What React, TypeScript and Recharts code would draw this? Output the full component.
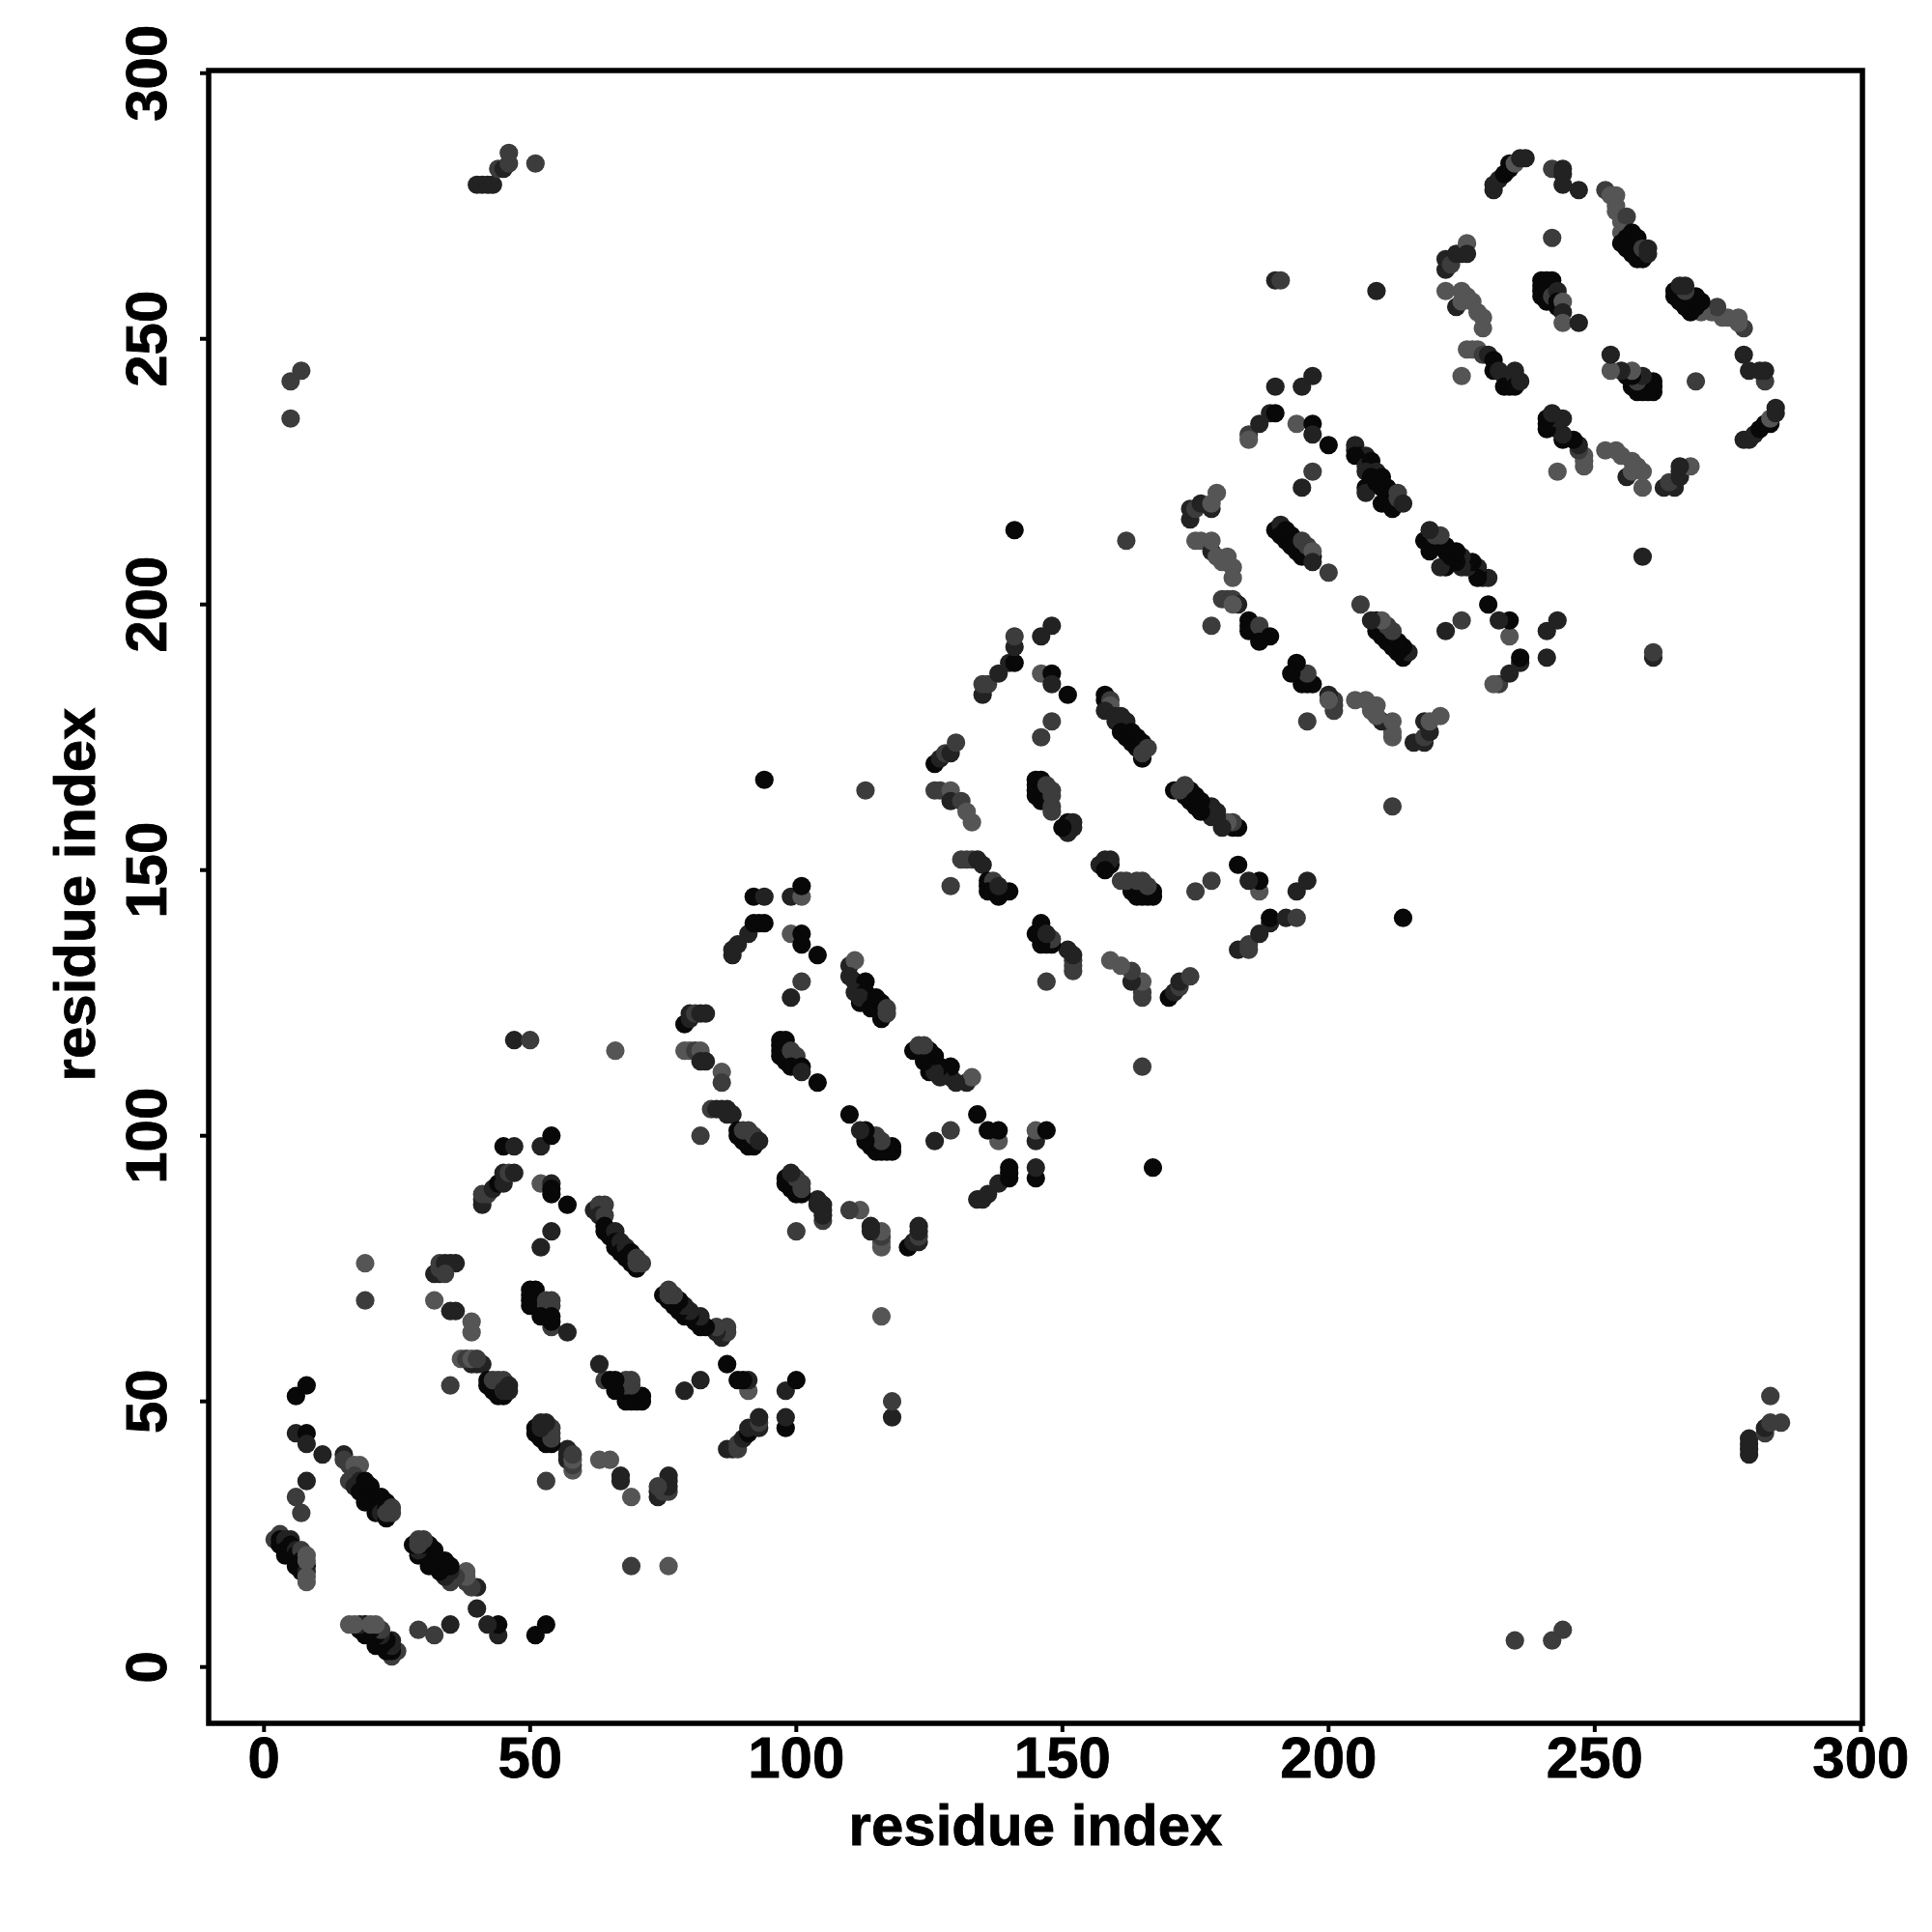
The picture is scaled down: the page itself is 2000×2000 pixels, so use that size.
import React from 'react';
import { ScatterChart, Scatter, XAxis, YAxis, ReferenceArea, Label } from 'recharts';

type C = number[];
// [residue i, residue j, contact score 0..3]
const upA: C[] = [[2,24,1],[3,25,1],[3,24,3],[3,23,3],[4,24,2],[4,22,3],[5,24,2],[5,23,3],[4,21,3],[5,21,3],[6,22,2],[6,21,3],[6,19,3],[7,22,1],[7,20,3],[7,18,3],[8,21,0],[8,19,3],[8,18,2],[8,17,0],[8,20,0],[8,16,0],[6,51,3],[8,53,3],[6,44,2],[8,44,3],[8,42,2],[11,40,2],[8,35,2],[6,32,1],[7,29,1],[5,235,1],[5,242,1],[7,244,1]];
const upC: C[] = [[15,40,2],[15,39,1],[16,38,1],[17,38,0],[18,38,0],[16,35,1],[17,36,1],[18,35,2],[17,34,2],[19,35,3],[19,33,3],[18,33,3],[20,34,3],[20,32,3],[20,31,3],[19,31,3],[21,32,3],[21,30,3],[21,29,3],[22,32,3],[22,30,3],[22,29,2],[23,31,3],[23,30,3],[23,28,3],[24,30,1],[24,29,1],[23,29,1],[19,76,0],[19,69,1]];
const upD: C[] = [[32,74,2],[33,74,2],[33,75,1],[33,76,1],[34,76,2],[35,76,2],[36,76,2],[34,74,1],[32,69,0],[35,67,2],[36,67,2],[39,65,0],[39,63,0],[39,57,2],[40,57,2],[41,57,2],[37,58,0],[38,58,1],[39,58,0],[40,58,1],[35,53,1],[42,54,3],[42,53,3],[43,52,3],[44,52,3],[45,51,3],[44,51,3],[43,54,1],[44,54,1],[45,54,1],[45,52,2],[46,53,2],[46,52,2]];
const upE: C[] = [[40,279,2],[41,279,2],[42,279,2],[43,279,2],[44,282,1],[45,282,2],[46,283,1],[46,285,1],[51,283,1]];
const upF: C[] = [[41,87,2],[41,88,2],[41,89,1],[42,89,1],[43,90,2],[44,91,3],[45,91,2],[45,93,2],[46,93,1],[47,93,2],[45,98,3],[47,98,2],[47,118,2],[50,118,1],[52,98,2],[54,100,3],[52,91,0],[54,91,2],[54,90,3],[54,89,3],[57,87,3],[54,82,2],[52,79,2]];
const upG: C[] = [[50,71,3],[51,71,3],[50,70,3],[51,70,3],[50,69,3],[50,68,3],[51,68,3],[52,67,3],[53,69,1],[54,69,1],[53,68,1],[54,68,1],[54,64,1],[52,66,3],[54,66,3],[54,65,3],[57,63,2]];
const upH: C[] = [[62,86,2],[63,87,1],[64,87,1],[63,85,2],[64,85,1],[64,83,3],[64,82,3],[65,81,3],[66,82,2],[66,80,3],[66,79,3],[67,80,2],[67,78,3],[68,79,2],[68,77,3],[69,78,3],[69,76,3],[70,75,3],[70,77,1],[70,76,1],[71,76,1],[66,116,0]];
const upI: C[] = [[79,121,3],[80,122,2],[80,123,2],[81,123,1],[82,123,2],[83,123,2],[79,116,0],[80,116,0],[81,116,1],[82,116,0],[83,114,2],[82,114,2],[86,112,0],[86,110,1],[82,100,1],[84,105,1],[85,105,2],[86,105,2],[87,105,2],[87,104,2],[88,104,2],[89,101,3],[89,100,3],[90,99,3],[91,98,3],[92,98,3],[90,101,1],[91,101,1],[92,100,1],[93,99,2]];
const upJ: C[] = [[88,134,2],[88,135,2],[89,136,2],[91,138,2],[92,140,3],[93,140,3],[94,140,3],[92,145,3],[94,145,2],[99,145,2],[101,145,0],[101,147,3],[99,138,0],[101,138,3],[101,136,3],[104,134,3],[101,129,1],[99,126,2],[94,167,3],[113,165,1]];
const upK: C[] = [[97,118,3],[98,118,3],[97,117,3],[97,116,3],[97,115,3],[98,114,3],[99,116,1],[100,115,1],[99,113,3],[101,113,3],[101,112,2],[104,110,3]];
const upL: C[] = [[110,132,2],[111,133,0],[110,130,2],[111,129,2],[113,129,3],[111,127,2],[112,125,3],[113,127,3],[112,126,2],[115,126,3],[114,124,3],[115,124,3],[116,125,3],[116,123,3],[116,122,3],[117,124,1],[117,123,1]];
const upM: C[] = [[126,170,3],[127,171,2],[128,172,1],[129,172,2],[130,174,1],[126,165,1],[127,165,1],[129,165,0],[129,163,2],[131,163,1],[132,161,0],[133,159,0],[129,147,1],[131,152,1],[132,152,1],[133,152,1],[134,152,2],[135,151,2],[136,148,3],[136,147,3],[137,148,1],[136,146,3],[138,145,3],[140,146,3],[138,147,2]];
const upN: C[] = [[135,183,2],[135,185,1],[136,185,1],[138,187,2],[140,189,2],[141,189,3],[141,192,2],[141,194,1],[146,194,2],[148,196,2],[146,187,0],[148,187,3],[148,185,2],[151,183,3],[148,178,1],[146,175,1],[141,214,3],[162,212,1]];
const upO: C[] = [[145,167,3],[146,167,3],[145,166,3],[145,165,3],[146,165,3],[145,164,3],[146,163,3],[147,163,3],[147,166,1],[148,165,1],[148,164,1],[148,162,1],[148,161,1],[151,159,3],[152,159,2],[151,158,2],[152,158,2],[151,157,2],[150,158,3]];
const upP: C[] = [[158,183,3],[158,182,3],[159,182,1],[159,181,0],[158,180,2],[160,179,2],[160,178,2],[161,179,2],[162,178,2],[161,176,3],[162,175,3],[163,176,3],[163,174,3],[164,175,3],[164,173,3],[165,174,3],[165,171,3],[165,172,1],[166,173,1]];
const upQ: C[] = [[174,216,2],[174,218,2],[175,218,1],[176,219,2],[178,218,2],[178,219,0],[179,221,0],[175,212,0],[176,212,0],[178,210,2],[178,212,0],[179,209,0],[180,208,0],[181,209,0],[182,207,0],[182,205,0],[180,201,1],[181,201,1],[182,201,1],[183,200,2],[182,200,0],[178,196,1],[185,197,3],[185,196,3],[186,196,3],[185,195,3],[187,195,3],[187,196,1],[189,194,3],[187,193,3]];
const upR: C[] = [[185,232,1],[185,231,0],[187,234,2],[189,236,2],[190,236,3],[190,241,2],[195,241,2],[197,243,2],[194,234,0],[197,234,3],[197,232,2],[200,230,3],[197,225,1],[195,222,2],[190,261,2],[191,261,1],[209,259,2]];
const upS: C[] = [[190,214,3],[191,215,2],[191,213,3],[192,214,3],[192,212,3],[193,213,3],[193,211,3],[194,212,3],[194,210,3],[195,209,3],[195,212,1],[196,211,1],[197,209,3],[197,210,0],[197,208,2],[200,206,1]];
const upT: C[] = [[205,230,2],[205,229,2],[206,228,3],[207,228,2],[205,228,3],[207,226,2],[208,227,3],[209,225,2],[207,225,2],[208,224,3],[207,222,3],[207,221,2],[209,223,3],[210,224,3],[210,222,3],[211,222,3],[211,220,3],[212,221,3],[210,219,3],[212,219,3],[212,218,3],[213,221,1],[213,220,1],[214,219,2]];
const upU: C[] = [[222,259,0],[225,259,0],[224,256,2],[225,257,0],[226,258,0],[227,257,0],[228,255,0],[229,254,0],[229,252,0],[225,243,0],[226,248,0],[227,248,0],[228,248,0],[229,247,1],[230,247,2],[231,246,3],[231,244,3],[232,244,2],[233,243,2],[233,241,3],[234,241,3],[235,244,2],[235,243,2],[235,241,3],[236,242,2],[222,263,2],[222,265,2],[223,264,1],[224,266,2],[225,266,2],[226,268,0],[226,266,2],[231,278,2],[231,279,2],[232,280,2],[233,281,3],[234,282,3],[234,283,3],[235,283,0],[236,284,2],[237,284,2],[242,282,1],[244,282,2],[244,281,2],[244,279,2],[247,278,2],[242,269,1]];
const upV: C[] = [[240,261,3],[241,261,3],[242,261,3],[240,260,3],[240,259,3],[240,258,3],[241,257,3],[242,258,1],[243,259,2],[243,257,3],[243,256,3],[244,257,0],[244,255,2],[244,253,0],[247,253,2]];
const upW: C[] = [[252,278,1],[253,277,0],[254,277,0],[254,275,0],[254,274,0],[255,272,0],[256,273,1],[255,270,0],[256,269,3],[257,270,3],[258,269,3],[255,268,3],[256,267,3],[257,266,3],[258,265,3],[258,268,3],[259,265,3],[258,266,3],[259,267,1],[260,267,2],[260,266,2]];

const lowA: C[] = [[24,2,1],[25,3,1],[24,3,3],[23,3,3],[24,4,2],[22,4,3],[24,5,2],[23,5,3],[21,4,3],[21,5,3],[22,6,2],[21,6,3],[19,6,3],[22,7,1],[20,7,3],[18,7,3],[21,8,0],[19,8,3],[18,8,2],[17,8,0],[20,8,0],[16,8,0],[51,6,3],[53,8,3],[44,6,2],[44,8,3],[42,8,2],[40,11,2],[35,8,2],[32,6,1],[29,7,1],[235,5,1],[242,5,1],[244,7,1]];
const lowC: C[] = [[40,15,2],[39,15,1],[38,16,1],[38,17,0],[38,18,0],[35,16,1],[36,17,1],[35,18,2],[34,17,2],[35,19,3],[33,19,3],[33,18,3],[34,20,3],[32,20,3],[31,20,3],[31,19,3],[32,21,3],[30,21,3],[29,21,3],[32,22,3],[30,22,3],[29,22,2],[31,23,3],[30,23,3],[28,23,3],[30,24,1],[29,24,1],[29,23,1],[76,19,0],[69,19,1]];
const lowD: C[] = [[74,32,2],[74,33,2],[75,33,1],[76,33,1],[76,34,2],[76,35,2],[76,36,2],[74,34,1],[69,32,0],[67,35,2],[67,36,2],[65,39,0],[63,39,0],[57,39,2],[57,40,2],[57,41,2],[58,37,0],[58,38,1],[58,39,0],[58,40,1],[53,35,1],[54,42,3],[53,42,3],[52,43,3],[52,44,3],[51,45,3],[51,44,3],[54,43,1],[54,44,1],[54,45,1],[52,45,2],[53,46,2],[52,46,2]];
const lowE: C[] = [[279,40,2],[279,41,2],[279,42,2],[279,43,2],[282,44,1],[282,45,2],[283,46,1],[285,46,1],[283,51,1]];
const lowF: C[] = [[87,41,2],[88,41,2],[89,41,1],[89,42,1],[90,43,2],[91,44,3],[91,45,2],[93,45,2],[93,46,1],[93,47,2],[98,45,3],[98,47,2],[118,47,2],[118,50,1],[98,52,2],[100,54,3],[91,52,0],[91,54,2],[90,54,3],[89,54,3],[87,57,3],[82,54,2],[79,52,2]];
const lowG: C[] = [[71,50,3],[71,51,3],[70,50,3],[70,51,3],[69,50,3],[68,50,3],[68,51,3],[67,52,3],[69,53,1],[69,54,1],[68,53,1],[68,54,1],[64,54,1],[66,52,3],[66,54,3],[65,54,3],[63,57,2]];
const lowH: C[] = [[86,62,2],[87,63,1],[87,64,1],[85,63,2],[85,64,1],[83,64,3],[82,64,3],[81,65,3],[82,66,2],[80,66,3],[79,66,3],[80,67,2],[78,67,3],[79,68,2],[77,68,3],[78,69,3],[76,69,3],[75,70,3],[77,70,1],[76,70,1],[76,71,1],[116,66,0]];
const lowI: C[] = [[121,79,3],[122,80,2],[123,80,2],[123,81,1],[123,82,2],[123,83,2],[116,79,0],[116,80,0],[116,81,1],[116,82,0],[114,83,2],[114,82,2],[112,86,0],[110,86,1],[100,82,1],[105,84,1],[105,85,2],[105,86,2],[105,87,2],[104,87,2],[104,88,2],[101,89,3],[100,89,3],[99,90,3],[98,91,3],[98,92,3],[101,90,1],[101,91,1],[100,92,1],[99,93,2]];
const lowJ: C[] = [[134,88,2],[135,88,2],[136,89,2],[138,91,2],[140,92,3],[140,93,3],[140,94,3],[145,92,3],[145,94,2],[145,99,2],[145,101,0],[147,101,3],[138,99,0],[138,101,3],[136,101,3],[134,104,3],[129,101,1],[126,99,2],[167,94,3],[165,113,1]];
const lowK: C[] = [[118,97,3],[118,98,3],[117,97,3],[116,97,3],[115,97,3],[114,98,3],[116,99,1],[115,100,1],[113,99,3],[113,101,3],[112,101,2],[110,104,3]];
const lowL: C[] = [[132,110,2],[133,111,0],[130,110,2],[129,111,2],[129,113,3],[127,111,2],[125,112,3],[127,113,3],[126,112,2],[126,115,3],[124,114,3],[124,115,3],[125,116,3],[123,116,3],[122,116,3],[124,117,1],[123,117,1]];
const lowM: C[] = [[170,126,3],[171,127,2],[172,128,1],[172,129,2],[174,130,1],[165,126,1],[165,127,1],[165,129,0],[163,129,2],[163,131,1],[161,132,0],[159,133,0],[147,129,1],[152,131,1],[152,132,1],[152,133,1],[152,134,2],[151,135,2],[148,136,3],[147,136,3],[148,137,1],[146,136,3],[145,138,3],[146,140,3],[147,138,2]];
const lowN: C[] = [[183,135,2],[185,135,1],[185,136,1],[187,138,2],[189,140,2],[189,141,3],[192,141,2],[194,141,1],[194,146,2],[196,148,2],[187,146,0],[187,148,3],[185,148,2],[183,151,3],[178,148,1],[175,146,1],[214,141,3],[212,162,1]];
const lowO: C[] = [[167,145,3],[167,146,3],[166,145,3],[165,145,3],[165,146,3],[164,145,3],[163,146,3],[163,147,3],[166,147,1],[165,148,1],[164,148,1],[162,148,1],[161,148,1],[159,151,3],[159,152,2],[158,151,2],[158,152,2],[157,151,2],[158,150,3]];
const lowP: C[] = [[183,158,3],[182,158,3],[182,159,1],[181,159,0],[180,158,2],[179,160,2],[178,160,2],[179,161,2],[178,162,2],[176,161,3],[175,162,3],[176,163,3],[174,163,3],[175,164,3],[173,164,3],[174,165,3],[171,165,3],[172,165,1],[173,166,1]];
const lowQ: C[] = [[216,174,2],[218,174,2],[218,175,1],[219,176,2],[218,178,2],[219,178,0],[221,179,0],[212,175,0],[212,176,0],[210,178,2],[212,178,0],[209,179,0],[208,180,0],[209,181,0],[207,182,0],[205,182,0],[201,180,1],[201,181,1],[201,182,1],[200,183,2],[200,182,0],[196,178,1],[197,185,3],[196,185,3],[196,186,3],[195,185,3],[195,187,3],[196,187,1],[194,189,3],[193,187,3]];
const lowR: C[] = [[232,185,1],[231,185,0],[234,187,2],[236,189,2],[236,190,3],[241,190,2],[241,195,2],[243,197,2],[234,194,0],[234,197,3],[232,197,2],[230,200,3],[225,197,1],[222,195,2],[261,190,2],[261,191,1],[259,209,2]];
const lowS: C[] = [[214,190,3],[215,191,2],[213,191,3],[214,192,3],[212,192,3],[213,193,3],[211,193,3],[212,194,3],[210,194,3],[209,195,3],[212,195,1],[211,196,1],[209,197,3],[210,197,0],[208,197,2],[206,200,1]];
const lowT: C[] = [[230,205,2],[229,205,2],[228,206,3],[228,207,2],[228,205,3],[226,207,2],[227,208,3],[225,209,2],[225,207,2],[224,208,3],[222,207,3],[221,207,2],[223,209,3],[224,210,3],[222,210,3],[222,211,3],[220,211,3],[221,212,3],[219,210,3],[219,212,3],[218,212,3],[221,213,1],[220,213,1],[219,214,2]];
const lowU: C[] = [[259,222,0],[259,225,0],[256,224,2],[257,225,0],[258,226,0],[257,227,0],[255,228,0],[254,229,0],[252,229,0],[243,225,0],[248,226,0],[248,227,0],[248,228,0],[247,229,1],[247,230,2],[246,231,3],[244,231,3],[244,232,2],[243,233,2],[241,233,3],[241,234,3],[244,235,2],[243,235,2],[241,235,3],[242,236,2],[263,222,2],[265,222,2],[264,223,1],[266,224,2],[266,225,2],[268,226,0],[266,226,2],[278,231,2],[279,231,2],[280,232,2],[281,233,3],[282,234,3],[283,234,3],[283,235,0],[284,236,2],[284,237,2],[282,242,1],[282,244,2],[281,244,2],[279,244,2],[278,247,2],[269,242,1]];
const lowV: C[] = [[261,240,3],[261,241,3],[261,242,3],[260,240,3],[259,240,3],[258,240,3],[257,241,3],[258,242,1],[259,243,2],[257,243,3],[256,243,3],[257,244,0],[255,244,2],[253,244,0],[253,247,2]];
const lowW: C[] = [[278,252,1],[277,253,0],[277,254,0],[275,254,0],[274,254,0],[272,255,0],[273,256,1],[270,255,0],[269,256,3],[270,257,3],[269,258,3],[268,255,3],[267,256,3],[266,257,3],[265,258,3],[268,258,3],[265,259,3],[266,258,3],[267,259,1],[267,260,2],[266,260,2]];

const tickValues = [0, 50, 100, 150, 200, 250, 300];
const axisTitle = 'residue index';

const clusters = [upA,lowA,upC,lowC,upD,lowD,upE,lowE,upF,lowF,upG,lowG,upH,lowH,upI,lowI,upJ,lowJ,upK,lowK,upL,lowL,upM,lowM,upN,lowN,upO,lowO,upP,lowP,upQ,lowQ,upR,lowR,upS,lowS,upT,lowT,upU,lowU,upV,lowV,upW,lowW];
const points = clusters.flat().map(([i, j, score]) => ({ i, j, score }));

const shades = ['#555555', '#3c3c3c', '#222222', '#080808'];
const font = '"Liberation Sans", Arial, sans-serif';
const xDomain: [number, number] = [-10.4, 300.3];
const yDomain: [number, number] = [-10.6, 300.5];

const Dot = (p: any) => <circle cx={p.cx} cy={p.cy} r={9.6} fill={shades[p.payload.score]} />;

const textStyle = { fontFamily: font, fontWeight: 'bold' as const, fontSize: 60, fill: '#000', stroke: '#000', strokeWidth: 0.8 };

const XTick = (p: any) => (
  <text x={p.x} y={1840} textAnchor="middle" style={textStyle}>{p.payload.value}</text>
);
const YTick = (p: any) => (
  <text transform={`translate(172 ${p.y}) rotate(-90)`} textAnchor="middle" style={textStyle}>{p.payload.value}</text>
);

export default function App() {
  return (
    <div style={{ position: 'absolute', left: 0, top: 0, width: 2000, height: 2000, background: '#fff' }}>
      <ScatterChart width={2000} height={2000} margin={{ top: 73, right: 72, bottom: 0, left: 0 }}>
        <XAxis type="number" dataKey="i" domain={xDomain} ticks={tickValues} allowDataOverflow height={216} interval={0}
          axisLine={false} tickSize={9} tickLine={{ stroke: '#000', strokeWidth: 4 }} tick={XTick}>
          <Label content={() => <text x={1072} y={1910} textAnchor="middle" style={textStyle}>{axisTitle}</text>} />
        </XAxis>
        <YAxis type="number" dataKey="j" domain={yDomain} ticks={tickValues} allowDataOverflow width={216} interval={0}
          axisLine={false} tickSize={9} tickLine={{ stroke: '#000', strokeWidth: 4 }} tick={YTick}>
          <Label content={() => <text transform="translate(98 926) rotate(-90)" textAnchor="middle" style={textStyle}>{axisTitle}</text>} />
        </YAxis>
        <Scatter data={points} isAnimationActive={false} shape={Dot} />
        <ReferenceArea x1={xDomain[0]} x2={xDomain[1]} y1={yDomain[0]} y2={yDomain[1]} fill="none" stroke="#000" strokeWidth={5.5} ifOverflow="visible" />
      </ScatterChart>
    </div>
  );
}
